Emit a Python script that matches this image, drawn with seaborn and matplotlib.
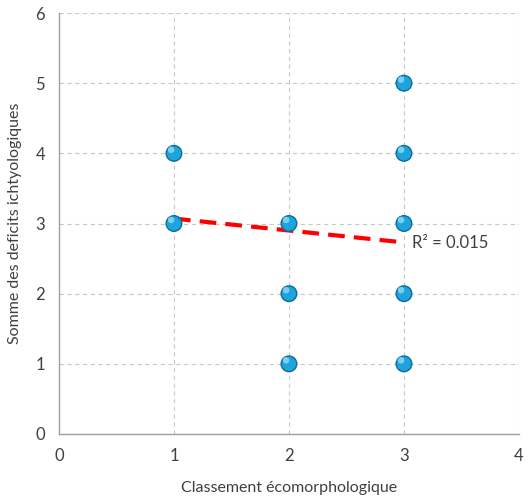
import matplotlib
matplotlib.use("Agg")
import matplotlib.pyplot as plt
import seaborn as sns
import pandas as pd

# observed points
classement = [1, 1, 2, 2, 2, 3, 3, 3, 3, 3]
deficits = [3, 4, 1, 2, 3, 1, 2, 3, 4, 5]

# linear trend as drawn in the reference
trend_x = [1, 3]
trend_y = [3.07, 2.73]
r2_label = "R² = 0.015"

sns.set_style("white")
plt.rcParams['font.family'] = ['Lato', 'DejaVu Sans']

df = pd.DataFrame({'x': classement, 'y': deficits})
trend = pd.DataFrame({'x': trend_x, 'y': trend_y})

fig = plt.figure(figsize=(5.29, 5.0), dpi=100)
ax = fig.add_axes([0.1115, 0.132, 0.8695, 0.842])

ax.grid(True, color='#c8c8c8', linestyle=(0, (4, 3)), linewidth=0.8)
ax.set_axisbelow(True)

sns.lineplot(data=trend, x='x', y='y', ax=ax, color='#ff0000', linewidth=3,
             linestyle=(0, (4, 2.2)), zorder=3)

# sphere look: dark rim, body, highlight
sns.scatterplot(data=df, x='x', y='y', ax=ax, s=150, color='#0a6c99', edgecolor='none', zorder=4)
sns.scatterplot(data=df, x='x', y='y', ax=ax, s=105, color='#1ea3da', edgecolor='none', zorder=5)
hl = df.assign(x=df.x - 0.025, y=df.y + 0.05)
sns.scatterplot(data=hl, x='x', y='y', ax=ax, s=22, color='#8fdcff', edgecolor='none', alpha=0.8, zorder=6)

ax.text(3.07, 2.72, r2_label, fontsize=12, color='#404040', va='center', ha='left')

ax.set_xlim(0, 4)
ax.set_ylim(0, 6)
ax.set_xticks(range(0, 5))
ax.set_yticks(range(0, 7))
for s in ['top', 'right']:
    ax.spines[s].set_visible(False)
for s in ['left', 'bottom']:
    ax.spines[s].set_color('#a0a0a0')
    ax.spines[s].set_linewidth(1)
ax.tick_params(axis='both', direction='out', length=4, color='#a0a0a0',
               labelsize=12, labelcolor='#404040', pad=6)

ax.set_xlabel('Classement écomorphologique', fontsize=11.5, color='#404040', labelpad=12)
ax.set_ylabel('Somme des deficits ichtyologiques', fontsize=11.5, color='#404040', labelpad=10)

fig.savefig('out.png', dpi=100)
